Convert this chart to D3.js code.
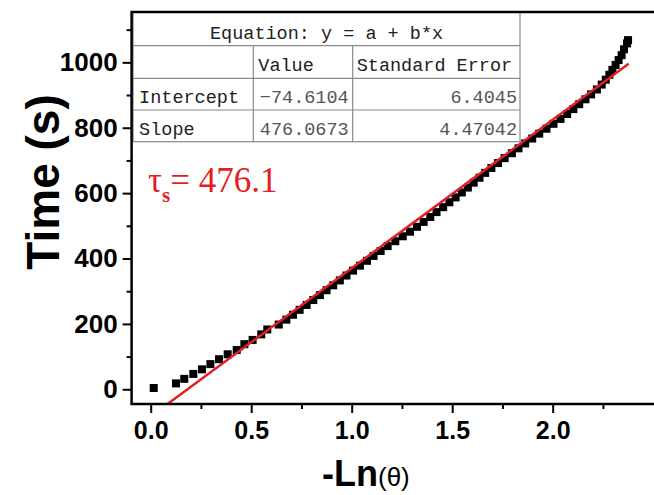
<!DOCTYPE html>
<html>
<head>
<meta charset="utf-8">
<script src="https://cdn.jsdelivr.net/npm/d3@7"></script>
<style>
  body { margin: 0; background: #fff; }
  svg { display: block; }
  .axis text { font-family: "Liberation Sans", Arial, sans-serif; font-weight: bold; fill: #000; }
  .axis path, .axis line { stroke: #000; }
  .tbl text { font-family: "Liberation Mono", monospace; font-size: 18.5px; }
</style>
</head>
<body>
<script>
// ---- data ----
var lnTheta = [0.015, 0.126, 0.167, 0.212, 0.255, 0.297, 0.340, 0.383, 0.428, 0.466, 0.507, 0.550, 0.580,
  0.637, 0.675, 0.708, 0.741, 0.776, 0.809, 0.842, 0.875, 0.908, 0.941, 0.974, 1.007, 1.041, 1.076, 1.109, 1.144, 1.179, 1.217, 1.254, 1.290,
  1.325, 1.358, 1.391, 1.422, 1.455, 1.486, 1.517, 1.548, 1.578, 1.607, 1.636, 1.664, 1.695, 1.728, 1.761, 1.797, 1.830, 1.863, 1.898, 1.933, 1.969, 2.004,
  2.039, 2.072, 2.103, 2.132, 2.163, 2.191, 2.220, 2.244, 2.264, 2.282, 2.297, 2.313, 2.328, 2.343, 2.355, 2.370, 2.375];
var timeS = [4, 18, 32, 47, 61, 77, 92, 107, 120, 138, 151, 168, 183,
  198, 213, 228, 243, 258, 273, 288, 303, 318, 333, 348, 363, 378, 393, 408, 423, 438, 453, 468, 482,
  497, 512, 527, 542, 557, 572, 587, 602, 617, 632, 647, 662, 677, 692, 707, 722, 737, 752, 767, 782, 797, 812,
  827, 842, 857, 872, 887, 902, 917, 932, 947, 962, 977, 992, 1007, 1022, 1040, 1058, 1068];

// fitted line as drawn
var fitX = [0, 2.378];
var fitY = [-83, 995.6];

var xTicks = [0, 0.5, 1.0, 1.5, 2.0];
var xMinor = [0.25, 0.75, 1.25, 1.75, 2.25];
var yTicks = [0, 200, 400, 600, 800, 1000];
var yMinor = [100, 300, 500, 700, 900, 1100];

var tableTitle = "Equation: y = a + b*x";
var tableHead = ["", "Value", "Standard Error"];
var tableRows = [
  ["Intercept", "\u221274.6104", "6.4045"],
  ["Slope", "476.0673", "4.47042"]
];
var tauValue = "476.1";

// ---- layout ----
var W = 654, H = 495;
var plotL = 131.6, plotR = 657.2, plotT = 12, plotB = 404;
var red = "#e31e24";

var svg = d3.select("body").append("svg")
  .attr("width", W).attr("height", H);

var x = d3.scaleLinear().domain([-0.095, 2.52]).range([plotL, plotR]);
var y = d3.scaleLinear().domain([-45, 1154]).range([plotB, plotT]);

svg.append("defs").append("clipPath").attr("id", "clip")
  .append("rect")
  .attr("x", plotL).attr("y", plotT)
  .attr("width", plotR - plotL).attr("height", plotB - plotT);

// points
svg.append("g").attr("clip-path", "url(#clip)")
  .selectAll("rect.pt")
  .data(lnTheta.map(function(v, i) { return {x: v, y: timeS[i]}; }))
  .enter().append("rect")
    .attr("class", "pt")
    .attr("x", function(d) { return x(d.x) - 4; })
    .attr("y", function(d) { return y(d.y) - 4; })
    .attr("width", 8).attr("height", 8)
    .attr("fill", "#000");

// fit line
var line = d3.line()
  .x(function(d) { return x(d.x); })
  .y(function(d) { return y(d.y); });

svg.append("path")
  .attr("clip-path", "url(#clip)")
  .datum(fitX.map(function(v, i) { return {x: v, y: fitY[i]}; }))
  .attr("d", line)
  .attr("fill", "none")
  .attr("stroke", red)
  .attr("stroke-width", 2.5);

// ---- table ----
var colX = [plotL + 1.5, 253.3, 352.7, 520];
var rowY = [plotT, 45.7, 78.3, 110, 141.7];
var tbl = svg.append("g").attr("class", "tbl");

tbl.append("rect")
  .attr("x", colX[0]).attr("y", rowY[0])
  .attr("width", colX[3] - colX[0]).attr("height", rowY[4] - rowY[0])
  .attr("fill", "#fff").attr("stroke", "#8a8a8a").attr("stroke-width", 1.2);

rowY.slice(1, 4).forEach(function(ry) {
  tbl.append("line")
    .attr("x1", colX[0]).attr("x2", colX[3]).attr("y1", ry).attr("y2", ry)
    .attr("stroke", "#8a8a8a").attr("stroke-width", 1.2);
});
[colX[1], colX[2]].forEach(function(cx) {
  tbl.append("line")
    .attr("x1", cx).attr("x2", cx).attr("y1", rowY[1]).attr("y2", rowY[4])
    .attr("stroke", "#8a8a8a").attr("stroke-width", 1.2);
});

tbl.append("text")
  .attr("x", (colX[0] + colX[3]) / 2).attr("y", rowY[1] - 7)
  .attr("text-anchor", "middle").attr("fill", "#222")
  .text(tableTitle);

tbl.append("text").attr("x", colX[1] + 5).attr("y", rowY[2] - 7)
  .attr("fill", "#222").text(tableHead[1]);
tbl.append("text").attr("x", colX[2] + 4).attr("y", rowY[2] - 7)
  .attr("fill", "#222").text(tableHead[2]);

tableRows.forEach(function(r, i) {
  var by = rowY[i + 3] - 7;
  tbl.append("text").attr("x", colX[0] + 6).attr("y", by)
    .attr("fill", "#222").text(r[0]);
  tbl.append("text").attr("x", colX[2] - 4).attr("y", by)
    .attr("text-anchor", "end").attr("fill", "#555").text(r[1]);
  tbl.append("text").attr("x", colX[3] - 3).attr("y", by)
    .attr("text-anchor", "end").attr("fill", "#555").text(r[2]);
});

// ---- frame ----
svg.append("rect")
  .attr("x", plotL).attr("y", plotT)
  .attr("width", plotR - plotL).attr("height", plotB - plotT)
  .attr("fill", "none").attr("stroke", "#000").attr("stroke-width", 2.5);

// ---- axes ----
var xAxis = svg.append("g").attr("class", "axis")
  .attr("transform", "translate(0," + plotB + ")")
  .call(d3.axisBottom(x).tickValues(xTicks).tickSize(9).tickPadding(8)
    .tickFormat(d3.format(".1f")));
xAxis.select(".domain").remove();
xAxis.selectAll("line").attr("stroke-width", 2);
xAxis.selectAll("text").style("font-size", "25px");

var xAxisMinor = svg.append("g").attr("class", "axis")
  .attr("transform", "translate(0," + plotB + ")")
  .call(d3.axisBottom(x).tickValues(xMinor).tickSize(5).tickFormat(""));
xAxisMinor.select(".domain").remove();
xAxisMinor.selectAll("line").attr("stroke-width", 2);

var yAxis = svg.append("g").attr("class", "axis")
  .attr("transform", "translate(" + plotL + ",0)")
  .call(d3.axisLeft(y).tickValues(yTicks).tickSize(9).tickPadding(5)
    .tickFormat(d3.format("d")));
yAxis.select(".domain").remove();
yAxis.selectAll("line").attr("stroke-width", 2);
yAxis.selectAll("text").style("font-size", "26px");

var yAxisMinor = svg.append("g").attr("class", "axis")
  .attr("transform", "translate(" + plotL + ",0)")
  .call(d3.axisLeft(y).tickValues(yMinor).tickSize(5).tickFormat(""));
yAxisMinor.select(".domain").remove();
yAxisMinor.selectAll("line").attr("stroke-width", 2);

// axis titles
svg.append("text")
  .attr("transform", "translate(59,182) rotate(-90)")
  .attr("text-anchor", "middle")
  .style("font-family", "'Liberation Sans', Arial, sans-serif")
  .style("font-weight", "bold")
  .style("font-size", "46px")
  .text("Time (s)");

var xt = svg.append("text")
  .attr("x", 322).attr("y", 486)
  .style("font-family", "'Liberation Sans', Arial, sans-serif")
  .style("font-weight", "bold");
xt.append("tspan").style("font-size", "36px").text("-Ln");
xt.append("tspan").style("font-size", "26px").style("font-weight", "normal").text("(\u03b8)");

// tau annotation
var tau = svg.append("text")
  .attr("x", 148).attr("y", 192)
  .attr("fill", red)
  .style("font-family", "'Liberation Serif', 'Times New Roman', serif")
  .style("font-size", "35px");
tau.append("tspan").text("\u03c4");
tau.append("tspan").attr("dy", 10).style("font-size", "21px").style("font-weight", "bold").text("s");
tau.append("tspan").attr("dy", -10).text("= " + tauValue);
</script>
</body>
</html>
